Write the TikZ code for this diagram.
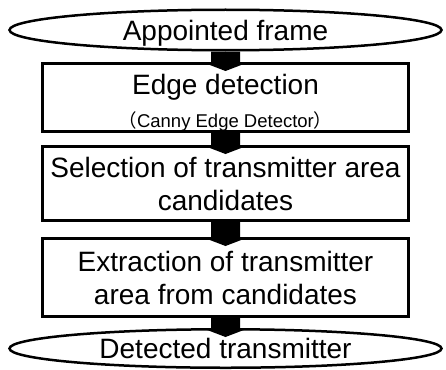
\documentclass[tikz,border=0pt]{standalone}
\usepackage{fontspec}
\setmainfont{Liberation Sans}
\newfontfamily\cjk{Noto Sans CJK JP}
\usetikzlibrary{positioning,shapes.geometric}

\newcommand{\blockarrow}[2]{%
  \fill ([xshift=-14.5pt]#1.south) -- ([xshift=-14.5pt]#2.north)
     -- ([xshift=-23.5pt]#2.north) -- ([yshift=-9pt]#2.north)
     -- ([xshift=23.5pt]#2.north) -- ([xshift=14.5pt]#2.north)
     -- ([xshift=14.5pt]#1.south) -- cycle;}

\begin{document}
\begin{tikzpicture}[
    x=1pt, y=1pt,
    endnode/.style={ellipse, draw=black, line width=2.5pt, minimum width=432pt, inner sep=0pt, font=\fontsize{28pt}{33pt}\selectfont},
    stepbox/.style={rectangle, draw=black, line width=3pt, minimum width=366pt, inner sep=0pt, align=center, font=\fontsize{28pt}{33pt}\selectfont}
    ]
        \useasboundingbox (0,0) rectangle (446,-369);
        %Nodes
        \node[endnode, minimum height=40.5pt, text depth=0pt]
            (frame)                                  at (225.5,-30)   {Appointed frame};
        \node[stepbox, minimum height=68pt]
            (edge)     [below=10.5pt of frame]    {\rule{0pt}{30pt}Edge detection\\[0pt] {\fontsize{18.5pt}{22pt}\selectfont{\cjk （}Canny Edge Detector{\cjk ）}}};
        \node[stepbox, minimum height=74pt]
            (select)   [below=12pt of edge]       {Selection of transmitter area\\ candidates};
        \node[stepbox, minimum height=78pt]
            (extract)  [below=15pt of select]     {Extraction of transmitter\\ area from candidates};
        \node[endnode, minimum height=38.5pt]
            (result)   [below=10pt of extract]    {Detected transmitter};

        %Lines
        \blockarrow{frame}{edge}
        \blockarrow{edge}{select}
        \blockarrow{select}{extract}
        \blockarrow{extract}{result}
    \end{tikzpicture}
\end{document}
